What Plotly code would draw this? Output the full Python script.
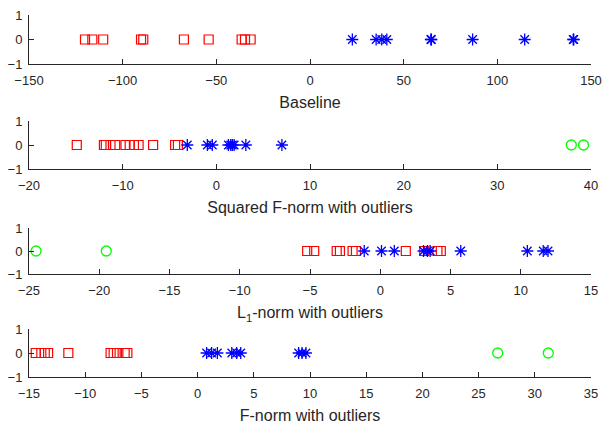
import plotly.graph_objects as go

# Panel 1: Baseline
base_red = [-120.1, -116.2, -110.4, -90.2, -89.0, -67.3, -54.1, -36.5, -34.7, -31.7]
base_blue = [22.6, 35.3, 38.3, 41.0, 64.5, 64.8, 86.8, 114.6, 140.5, 140.8]
base_green = []

# Panel 2: Squared F-norm with outliers
sq_red = [-14.9, -12.0, -11.8, -11.3, -10.8, -9.7, -9.25, -8.8, -8.3, -6.75, -4.4, -4.1]
sq_blue = [-3.1, -0.96, -0.43, 1.29, 1.54, 1.71, 1.9, 3.15, 7.0]
sq_green = [37.9, 39.2]

# Panel 3: L1-norm with outliers
l1_red = [-5.2, -4.7, -3.1, -2.87, -1.97, -1.73, 1.82, 3.13, 4.07, 4.31]
l1_blue = [-1.14, 0.09, 1.0, 3.08, 3.36, 3.55, 5.73, 10.47, 11.6, 11.94]
l1_green = [-24.5, -19.5]

# Panel 4: F-norm with outliers
f_red = [-14.4, -13.9, -13.6, -13.3, -11.5, -7.74, -7.47, -7.17, -6.49, -6.25]
f_blue = [0.8, 1.25, 1.76, 3.04, 3.48, 3.84, 8.99, 9.29, 9.64]
f_green = [26.7, 31.2]

panels = [
    (base_red, base_blue, base_green, [-150, 150], 50, "Baseline"),
    (sq_red, sq_blue, sq_green, [-20, 40], 10, "Squared F-norm with outliers"),
    (l1_red, l1_blue, l1_green, [-25, 15], 5, "L<sub>1</sub>-norm with outliers"),
    (f_red, f_blue, f_green, [-15, 35], 5, "F-norm with outliers"),
]

H = 424
ydoms = [(15, 64), (121, 169), (228, 274), (329, 377)]

fig = go.Figure()
axcol = "#262626"
font = dict(family="Liberation Sans, Arial, sans-serif", size=13, color=axcol)

for i, (red, blue, green, xr, dt, title) in enumerate(panels):
    n = "" if i == 0 else str(i + 1)
    xa, ya = "x" + n, "y" + n
    fig.add_trace(go.Scatter(x=red, y=[0] * len(red), mode="markers", xaxis=xa, yaxis=ya,
                             marker=dict(symbol="square-open", size=9, color="#ff0000",
                                         line=dict(width=1.2)), showlegend=False))
    fig.add_trace(go.Scatter(x=blue, y=[0] * len(blue), mode="markers", xaxis=xa, yaxis=ya,
                             marker=dict(symbol="asterisk-open", size=10, color="#0000ff",
                                         line=dict(width=1.3, color="#0000ff")), showlegend=False))
    if green:
        fig.add_trace(go.Scatter(x=green, y=[0] * len(green), mode="markers", xaxis=xa, yaxis=ya,
                                 marker=dict(symbol="circle-open", size=10, color="#00ff00",
                                             line=dict(width=1.3)), showlegend=False))
    top, bot = ydoms[i]
    fig.update_layout(**{
        "xaxis" + n: dict(domain=[29 / 604, 591 / 604], range=xr, dtick=dt, tick0=xr[0],
                          showgrid=False, zeroline=False, showline=True, linecolor=axcol,
                          linewidth=1, ticks="inside", ticklen=5, tickcolor=axcol,
                          tickfont=font, anchor=ya, automargin=False, ticklabelstandoff=4,
                          title=dict(text=title, font=dict(family=font["family"], size=16, color=axcol),
                                     standoff=10)),
        "yaxis" + n: dict(domain=[1 - bot / H, 1 - top / H], range=[-1, 1], dtick=1,
                          showgrid=False, zeroline=False, showline=True, linecolor=axcol,
                          linewidth=1, ticks="inside", ticklen=5, tickcolor=axcol,
                          tickfont=font, anchor=xa, automargin=False, ticklabelstandoff=3),
    })

fig.update_layout(width=604, height=424, margin=dict(l=0, r=0, t=0, b=0),
                  plot_bgcolor="white", paper_bgcolor="white")
fig.write_html("out.html")
